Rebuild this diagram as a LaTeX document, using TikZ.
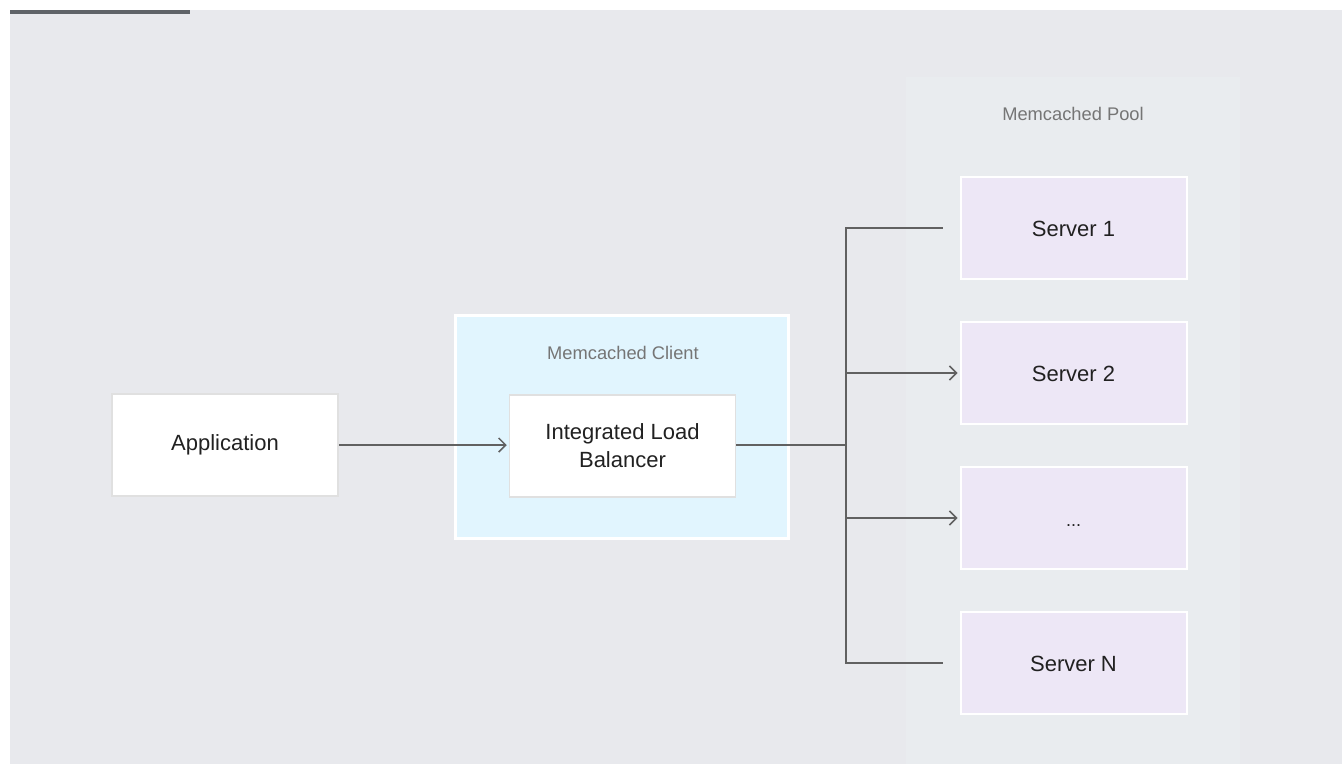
\documentclass[tikz,border=0pt]{standalone}
\usepackage{fontspec}
\setmainfont{Liberation Sans}
\usetikzlibrary{positioning,arrows.meta}
\definecolor{pagegray}{HTML}{E8E9ED}
\definecolor{poolgray}{HTML}{E9ECEF}
\definecolor{bargray}{HTML}{5F6368}
\definecolor{wiregray}{HTML}{616161}
\definecolor{labelgray}{HTML}{757575}
\definecolor{boxline}{HTML}{E0E0E0}
\definecolor{clientfill}{HTML}{E1F5FE}
\definecolor{serverfill}{HTML}{EDE7F6}
\definecolor{textdark}{HTML}{212121}
\begin{document}
\begin{tikzpicture}[x=1pt,y=-1pt,
    box/.style={draw=boxline,fill=white,line width=1.5pt,minimum width=226pt,
      minimum height=102pt,align=center,text=textdark,
      font=\fontsize{22}{28}\selectfont},
    server/.style={box,draw=white,line width=2pt,fill=serverfill,
      text height=16pt,text depth=0pt},
    group/.style={draw=none,inner sep=0pt,anchor=north west},
    grouplabel/.style={text=labelgray,font=\fontsize{18.3}{22}\selectfont},
    wire/.style={draw=wiregray,line width=1.5pt},
    arrow/.style={wire,-{Straight Barb[length=7pt,width=14pt,line width=1.5pt]},shorten >=2pt}]
    % page
    \useasboundingbox (0,0) rectangle (1342,764);
    \fill[white] (0,0) rectangle (1342,764);
    \fill[pagegray] (10,10) rectangle (1342,764);
    \fill[bargray] (10,10) rectangle (190,14);

    % memcached pool
    \node[group,fill=poolgray,minimum width=334pt,minimum height=687pt] (pool) at (906,77) {};
    \node[grouplabel] (poollabel) at (1073,114) {Memcached Pool};

    % memcached client
    \node[group,fill=white,minimum width=336pt,minimum height=226pt] (clientrim) at (454,314) {};
    \node[group,fill=clientfill,minimum width=330pt,minimum height=220pt] (client) at (457,317) {};
    \node[grouplabel] (clientlabel) at (623,353) {Memcached Client};

    % boxes
    \node[box] (app) at (225,445) {Application};
    \node[box] (ilb) at (622.5,446) {Integrated Load\\Balancer};
    \node[server] (s1) at (1073.5,228) {Server 1};
    \node[server] (s2) at (1073.5,373) {Server 2};
    \node[server] (s3) at (1073.5,518) {\fontsize{18}{20}\selectfont...};
    \node[server] (sn) at (1073.5,663) {Server N};

    % connectors
    \coordinate (split) at (846,445);
    \coordinate (t1) at ([xshift=-17pt]s1.west);
    \coordinate (tn) at ([xshift=-17pt]sn.west);
    \draw[arrow] (app) -- (app -| ilb.west);
    \draw[wire] (ilb.east |- split) -- (split);
    \draw[wire] (t1) -| (split);
    \draw[wire] (tn) -| (split);
    \draw[arrow] (split |- s2) -- (s2);
    \draw[arrow] (split |- s3) -- (s3);
\end{tikzpicture}
\end{document}
